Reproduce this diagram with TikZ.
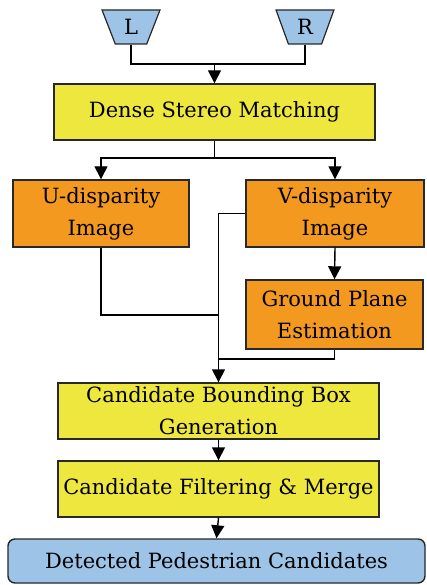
\documentclass[tikz,border=0pt]{standalone}
\usepackage{fontspec}
\setmainfont{DejaVu Serif}
\usetikzlibrary{shapes.geometric,arrows.meta}
\definecolor{boxyellow}{RGB}{238,232,62}
\definecolor{boxorange}{RGB}{243,153,32}
\definecolor{boxblue}{RGB}{157,195,230}
\definecolor{edgegray}{RGB}{40,40,40}
\tikzset{
  blk/.style={draw=edgegray, line width=1.4pt, rectangle, align=center, inner sep=0pt,
     font=\fontsize{21}{32}\selectfont},
  ybox/.style={blk, fill=boxyellow},
  obox/.style={blk, fill=boxorange},
  cam/.style={draw=edgegray, line width=1.2pt, fill=boxblue, trapezium, shape border rotate=180,
     trapezium stretches=true, minimum width=58pt, minimum height=34pt, trapezium angle=69,
     inner sep=0pt, font=\fontsize{21}{22}\selectfont},
  conn/.style={line width=1.4pt, draw=black},
  arr/.style={conn, -{Triangle[length=13pt,width=13pt]}}
}
\begin{document}
\begin{tikzpicture}[x=1pt,y=-1pt]
\useasboundingbox (0,0) rectangle (426,585);
\node[cam] (L) at (131,27) {L};
\node[cam] (R) at (305,27) {R};
\node[ybox, minimum width=321pt, minimum height=56pt] (dsm) at (214.5,112) {Dense Stereo Matching};
\node[obox, minimum width=176pt, minimum height=67pt] (U) at (101,213.5) {U-disparity\\Image};
\node[obox, minimum width=178pt, minimum height=67pt] (V) at (335,213.5) {V-disparity\\Image};
\node[obox, minimum width=177pt, minimum height=69pt] (G) at (334.5,314.5) {Ground Plane\\Estimation};
\node[ybox, minimum width=321pt, minimum height=56pt] (cbb) at (218.5,411) {Candidate Bounding Box\\Generation};
\node[ybox, minimum width=321pt, minimum height=56pt] (cfm) at (218.5,489) {Candidate Filtering \& Merge};
\node[blk, fill=boxblue, rounded corners=7pt, minimum width=417pt, minimum height=44pt] (dpc) at (216.5,561) {Detected Pedestrian Candidates};
\coordinate (j1) at (214.5,64);
\coordinate (j2) at (214.5,158);
\coordinate (j4) at (218.5,315);
\coordinate (j5) at (218.5,359);
\draw[conn] (L.south) |- (j1) -| (R.south);
\draw[arr] (j1) -- (dsm.north);
\draw[conn] (dsm.south) -- (j2);
\draw[arr] (j2) -| (U.north);
\draw[arr] (j2) -| (V.north);
\draw[arr] (V.west) -| (cbb.north);
\draw[conn] (U.south) |- (j4);
\draw[arr] (V.south) -- (G.north);
\draw[conn] (G.south) |- (j5);
\draw[arr] (cbb.south) -- (cfm.north);
\draw[arr] (cfm.south) -- (dpc.north);
\end{tikzpicture}
\end{document}
